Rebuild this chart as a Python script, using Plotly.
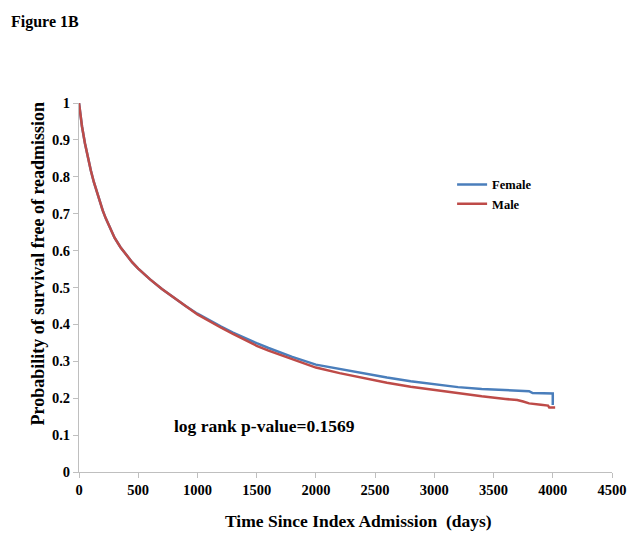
import plotly.graph_objects as go

# Kaplan-Meier style curves
female_days = [0, 10, 25, 50, 75, 100, 125, 150, 175, 200, 225, 250, 275, 300, 350, 400, 450,
               500, 550, 600, 700, 800, 900, 1000, 1100, 1200, 1300, 1400, 1500, 1600, 1800,
               2000, 2200, 2400, 2600, 2800, 3000, 3200, 3400, 3600, 3700, 3800, 3830, 3900,
               4000, 4000, 4010]
female_surv = [1.0, 0.972, 0.937, 0.891, 0.851, 0.817, 0.786, 0.758, 0.732, 0.709, 0.688,
               0.669, 0.651, 0.635, 0.609, 0.587, 0.568, 0.551, 0.536, 0.522, 0.496, 0.472,
               0.450, 0.429, 0.411, 0.394, 0.378, 0.363, 0.349, 0.336, 0.312, 0.291, 0.279,
               0.267, 0.256, 0.246, 0.237, 0.230, 0.225, 0.222, 0.220, 0.219, 0.214, 0.214,
               0.213, 0.185, 0.185]

male_days = [0, 10, 25, 50, 75, 100, 125, 150, 175, 200, 225, 250, 275, 300, 350, 400, 450,
             500, 550, 600, 700, 800, 900, 1000, 1100, 1200, 1300, 1400, 1500, 1600, 1800,
             2000, 2200, 2400, 2600, 2800, 3000, 3200, 3400, 3600, 3700, 3750, 3800, 3900,
             3960, 3970, 4020]
male_surv = [1.0, 0.972, 0.937, 0.891, 0.851, 0.817, 0.786, 0.758, 0.732, 0.709, 0.688,
             0.669, 0.651, 0.635, 0.609, 0.587, 0.568, 0.551, 0.536, 0.522, 0.496, 0.472,
             0.450, 0.427, 0.408, 0.391, 0.374, 0.358, 0.342, 0.329, 0.305, 0.283, 0.268,
             0.254, 0.242, 0.231, 0.222, 0.213, 0.205, 0.198, 0.195, 0.191, 0.186, 0.182,
             0.180, 0.175, 0.175]

x_ticks = [0, 500, 1000, 1500, 2000, 2500, 3000, 3500, 4000, 4500]
y_ticks = [0, 0.1, 0.2, 0.3, 0.4, 0.5, 0.6, 0.7, 0.8, 0.9, 1]
y_tick_labels = ["0", "0.1", "0.2", "0.3", "0.4", "0.5", "0.6", "0.7", "0.8", "0.9", "1"]

FONT = "Liberation Serif"
AXIS_GRAY = "#BFBFBF"
PW, PH = 538, 369  # plot area size in px

fig = go.Figure()
fig.add_trace(go.Scatter(x=female_days, y=female_surv, mode="lines", name="<b>Female</b>",
                         line=dict(color="#4A7EBB", width=2.5)))
fig.add_trace(go.Scatter(x=male_days, y=male_surv, mode="lines", name="<b>Male</b>",
                         line=dict(color="#BE4B48", width=2.5)))

# page body has an 8px margin, so the figure is 8px smaller and margins shifted
fig.update_layout(
    width=631, height=530,
    margin=dict(l=71, r=22, t=95, b=66),
    paper_bgcolor="white", plot_bgcolor="white",
    font=dict(family=FONT, color="black", size=15),
    showlegend=True,
    legend=dict(x=0.70, y=0.819, xanchor="left", yanchor="top",
                bgcolor="rgba(0,0,0,0)", itemwidth=30,
                font=dict(family=FONT, size=12.5, color="black"),
                tracegroupgap=0),
    xaxis=dict(range=[0, 4500], tickmode="array", tickvals=x_ticks,
               ticktext=[f"<b>{t}</b>" for t in x_ticks],
               showgrid=False, zeroline=False, showline=True, linecolor=AXIS_GRAY,
               linewidth=1, ticks="outside", tickcolor=AXIS_GRAY, ticklen=5,
               tickfont=dict(family=FONT, size=14.5, color="black")),
    yaxis=dict(range=[0, 1], tickmode="array", tickvals=y_ticks,
               ticktext=[f"<b>{t}</b>" for t in y_tick_labels],
               showgrid=False, zeroline=False, showline=True, linecolor=AXIS_GRAY,
               linewidth=1, ticks="outside", tickcolor=AXIS_GRAY, ticklen=5,
               tickfont=dict(family=FONT, size=14.5, color="black")),
    annotations=[
        dict(text="<b>Figure 1B</b>", xref="paper", yref="paper", x=-71/PW, y=1 + 81/PH,
             xanchor="left", yanchor="middle", showarrow=False,
             font=dict(family=FONT, size=16, color="black")),
        dict(text="<b>Probability of survival free of readmission</b>", xref="paper", yref="paper",
             x=-41/PW, y=(472 - 263) / PH, textangle=-90, xanchor="center", yanchor="middle",
             showarrow=False, font=dict(family=FONT, size=18, color="black")),
        dict(text="<b>Time Since Index Admission  (days)</b>", xref="paper", yref="paper",
             x=(361 - 79) / PW, y=-(521 - 472) / PH, xanchor="center", yanchor="middle",
             showarrow=False, font=dict(family=FONT, size=17.5, color="black")),
        dict(text="<b>log rank p-value=0.1569</b>", xref="paper", yref="paper",
             x=(266 - 79) / PW, y=(472 - 426) / PH, xanchor="center", yanchor="middle",
             showarrow=False, font=dict(family=FONT, size=17.5, color="black")),
    ],
)

fig.write_html("out.html")
